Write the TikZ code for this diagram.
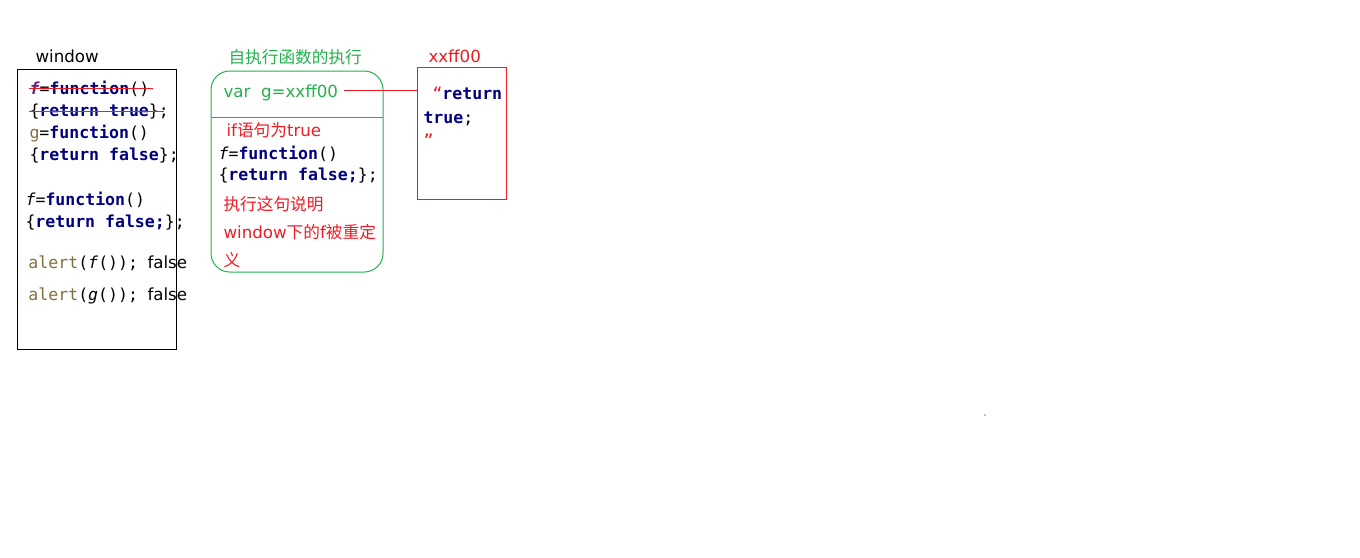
\documentclass[tikz,border=0pt]{standalone}
\usepackage{fontspec}
\setmainfont{DejaVu Sans}
\setmonofont{DejaVu Sans Mono}
\newfontfamily\cjk{Noto Sans CJK SC}
\definecolor{kwblue}{HTML}{00007F}
\definecolor{fpurple}{HTML}{6B1F7B}
\definecolor{olivec}{HTML}{7F6F3A}
\definecolor{selfgreen}{HTML}{22B14C}
\definecolor{heapred}{HTML}{ED1C24}
\newcommand{\kw}[1]{\textcolor{kwblue}{\textbf{#1}}}

\begin{document}
\begin{tikzpicture}[x=0.75pt,y=-0.75pt,line width=0.75pt,
	txt/.style={font=\fontsize{12.5}{14}\selectfont, inner sep=0pt, anchor=west},
	code/.style={font=\ttfamily\fontsize{12.4}{14}\selectfont, inner sep=0pt, anchor=base west}]
	\useasboundingbox (0,0) rectangle (1360,557);

	% window
	\node[txt] (wlabel) at (35,56) {window};
	\draw (17,69) rectangle (176,349);
	\node[code] (w1) at (29,94) {\textcolor{fpurple}{\textbf{\textit{f}}}=\kw{function}()};
	\node[code] (w2) at (29,116) {\{\kw{return true}\};};
	\node[code] (w3) at (29,138) {\textcolor{olivec}{g}=\kw{function}()};
	\node[code] (w4) at (29,160) {\{\kw{return false}\};};
	\node[code] (w5) at (25,205) {\textit{f}=\kw{function}()};
	\node[code] (w6) at (25,227) {\{\kw{return false;}\};};
	\node[code] (w7) at (28,268) {\textcolor{olivec}{alert}(\textit{f}());};
	\node[code] (w8) at (28,300) {\textcolor{olivec}{alert}(\textit{g}());};
	\node[txt, anchor=base west] (r7) at (147,268) {false};
	\node[txt, anchor=base west] (r8) at (147,300) {false};
	\draw[heapred] (29,88) -- (153,88);
	\draw[heapred] (29,111) -- (164,111);

	% self-executing function
	\node[txt, selfgreen] (slabel) at (228,57) {\cjk 自执行函数的执行};
	\draw[selfgreen, rounded corners=14] (211,71) rectangle (383,272);
	\draw[selfgreen] (211,117) -- (383,117);
	\node[txt, selfgreen] (gvar) at (223,93) {var\ \ g=xxff00};
	\node[txt, heapred] (s1) at (226,130) {if{\cjk 语句为}true};
	\node[code] (s2) at (218,159) {\textit{f}=\kw{function}()};
	\node[code] (s3) at (218,180) {\{\kw{return false;}\};};
	\node[txt, heapred] (s4) at (223,204) {\cjk 执行这句说明};
	\node[txt, heapred] (s5) at (223,232) {window{\cjk 下的}f{\cjk 被重定}};
	\node[txt, heapred] (s6) at (223,260) {\cjk 义};

	% heap object
	\node[txt, heapred] (hlabel) at (428,56) {xxff00};
	\node[draw=heapred, anchor=north west, minimum width=66.75pt, minimum height=99pt] (heap) at (417,67) {};
	\node[code] (h1) at (432,99) {\textcolor{heapred}{“}\kw{return}};
	\node[code] (h2) at (423,123) {\kw{true};};
	\node[code, heapred] (h3) at (423,146) {”};
	\coordinate (gv) at ([xshift=4pt,yshift=2pt]gvar.east);
	\draw[heapred] (gv) -- (gv -| heap.west);

	\fill (985,415) circle (0.7);
\end{tikzpicture}
\end{document}
